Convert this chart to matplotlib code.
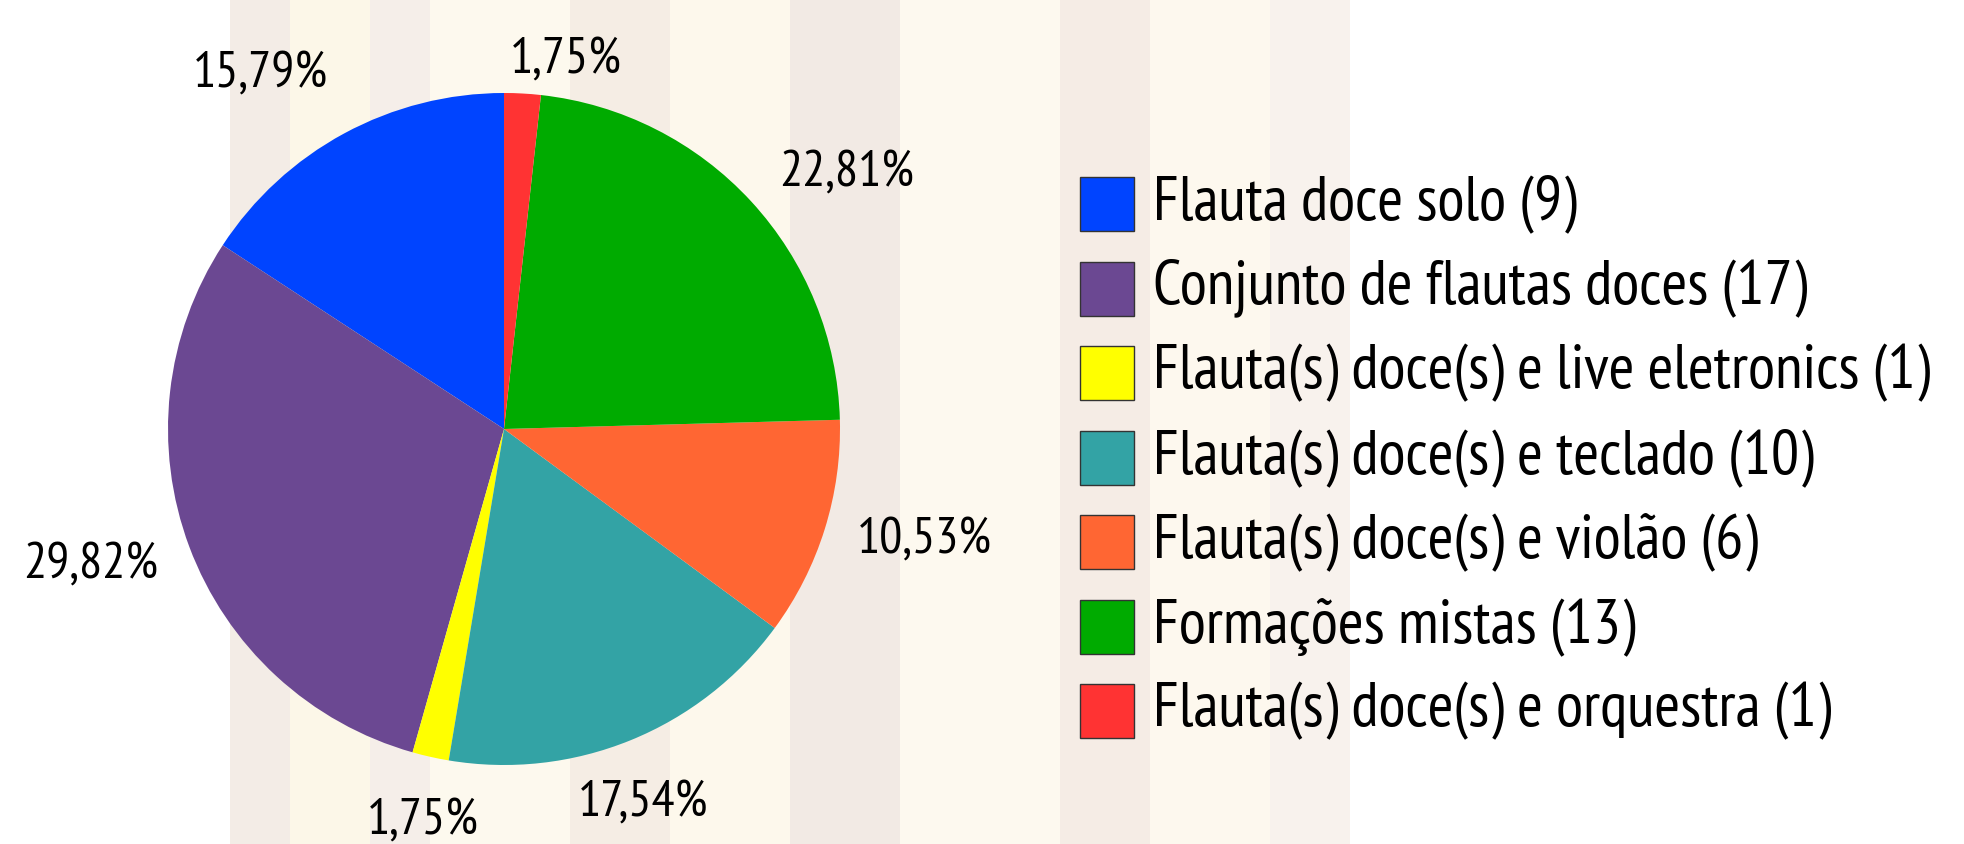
import matplotlib
matplotlib.use("Agg")
import matplotlib.pyplot as plt
import numpy as np
from matplotlib.patches import Rectangle

plt.rcParams['font.family'] = ['PT Sans Narrow', 'DejaVu Sans']

# data
labels = [
    "Flauta doce solo (9)",
    "Conjunto de flautas doces (17)",
    "Flauta(s) doce(s) e live eletronics (1)",
    "Flauta(s) doce(s) e teclado (10)",
    "Flauta(s) doce(s) e violão (6)",
    "Formações mistas (13)",
    "Flauta(s) doce(s) e orquestra (1)",
]
counts = [9, 17, 1, 10, 6, 13, 1]
colors = ["#0044ff", "#6b4892", "#ffff00", "#33a3a5", "#ff6633", "#00ab00", "#ff3333"]
# small label nudges in points (dx, dy), same order as counts
nudges = [(0, 5), (0, -4), (0, -6), (0, -6), (0, 0), (2, -12), (30, -16)]

W, H = 1965, 844
fig = plt.figure(figsize=(W / 100, H / 100), dpi=100)
fig.patch.set_facecolor("white")

# faint stretched-photo background bands
bands = [(230, 60, "#f3ece6"), (290, 80, "#fcf7e8"), (370, 60, "#f5eee9"),
         (430, 140, "#fdf9ee"), (570, 100, "#f5ede4"), (670, 120, "#fdf8ec"),
         (790, 110, "#f2eae4"), (900, 160, "#fdf9ef"), (1060, 90, "#f5ece5"),
         (1150, 120, "#fdf8ee"), (1270, 80, "#f8f2ed")]
for x0, w, c in bands:
    fig.add_artist(Rectangle((x0 / W, 0), w / W, 1, transform=fig.transFigure,
                             facecolor=c, edgecolor="none", zorder=-10))

# pie
cx, cy, r = 504, 429, 336
ax = fig.add_axes([(cx - r) / W, (H - cy - r) / H, 2 * r / W, 2 * r / H])
ax.patch.set_alpha(0)
wedges, _ = ax.pie(counts, colors=colors, startangle=90, counterclock=True,
                   wedgeprops=dict(linewidth=0))
ax.set_xlim(-1, 1)
ax.set_ylim(-1, 1)
ax.set_aspect("equal")
ax.axis("off")

total = sum(counts)
for w, n, (dx, dy) in zip(wedges, counts, nudges):
    ang = np.deg2rad((w.theta1 + w.theta2) / 2)
    c, s = np.cos(ang), np.sin(ang)
    ha = "left" if c > 0.45 else ("right" if c < -0.45 else "center")
    va = "bottom" if s > 0.5 else ("top" if s < -0.5 else "center")
    pct = f"{100 * n / total:.2f}%".replace(".", ",")
    ax.annotate(pct, (1.1 * c, 1.1 * s), xytext=(dx, dy), textcoords="offset points",
                ha=ha, va=va, fontsize=37, annotation_clip=False)

# legend
sq = 54
for i, (lab, col) in enumerate(zip(labels, colors)):
    yc = 204 + i * 84.5
    fig.add_artist(Rectangle((1080 / W, (H - yc - sq / 2) / H), sq / W, sq / H,
                             transform=fig.transFigure, facecolor=col,
                             edgecolor="#333333", linewidth=1))
    fig.text(1153 / W, (H - yc) / H, lab, ha="left", va="center", fontsize=45)

fig.savefig("out.png", dpi=100)
